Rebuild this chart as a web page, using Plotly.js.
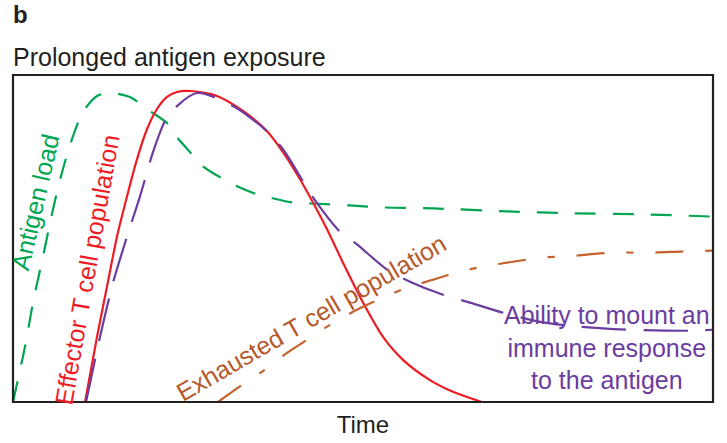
<!DOCTYPE html>
<html>
<head>
<meta charset="utf-8">
<script src="https://cdn.plot.ly/plotly-3.0.1.min.js"></script>
<style>html,body{margin:0;padding:0;background:#fff;}#chart{width:727px;height:443px;}</style>
</head>
<body>
<div id="chart"></div>
<script>
// Schematic time course (arbitrary units: time 0-100, level 0-100)
var antigenTime  = [0, 1.71, 2.86, 4.29, 5.71, 7.0, 8.43, 10.0, 12.0, 13.9, 16.7, 19.1, 22.0, 23.4, 25.3, 27.1, 29.6, 32.0, 34.9, 37.1, 40.0, 42.9, 48.1, 52.9, 60.0, 70.6, 80.0, 89.6, 100];
var antigenLoad  = [0, 16.9, 30.4, 44.5, 58.9, 70.2, 80.4, 88.7, 93.6, 94.5, 93.3, 89.6, 85.3, 81.0, 76.4, 72.1, 68.7, 66.0, 63.5, 62.3, 61.0, 60.7, 60.1, 59.5, 59.2, 58.3, 57.7, 57.4, 56.7];

var effectorTime = [10.29, 12.0, 13.43, 14.86, 16.29, 17.71, 19.14, 20.57, 22.0, 23.43, 25.29, 29.14, 32.86, 36.29, 38.57, 41.0, 42.86, 44.86, 47.14, 50.0, 52.86, 55.71, 59.57, 62.86, 65.29, 67.0];
var effectorPop  = [0, 19.9, 35.3, 50.6, 62.9, 74.2, 83.4, 89.6, 93.3, 94.8, 95.1, 93.6, 89.0, 82.8, 76.4, 68.1, 61.0, 52.8, 42.6, 30.4, 19.9, 12.9, 6.7, 3.1, 1.2, 0];

var abilityTime  = [10.43, 12.43, 14.29, 16.29, 18.14, 20.0, 21.71, 23.43, 26.29, 31.43, 36.29, 38.57, 41.43, 42.86, 46.71, 49.14, 53.43, 56.71, 61.43, 65.29, 70.0, 75.29, 81.0, 87.71, 96.71, 100];
var abilityLevel = [0, 19.9, 36.5, 50.6, 62.9, 76.4, 85.9, 90.5, 94.5, 90.5, 82.8, 77.3, 67.5, 62.6, 52.1, 48.2, 40.5, 36.8, 32.8, 30.4, 27.3, 24.5, 23.0, 22.1, 21.8, 22.1];

var exhaustedTime = [29.29, 32.71, 35.57, 39.14, 42.43, 45.29, 49.14, 52.86, 56.71, 60.0, 63.86, 67.14, 71.43, 75.71, 79.14, 83.43, 87.14, 91.43, 95.29, 100];
var exhaustedPop  = [0, 5.2, 9.2, 15.0, 19.6, 23.6, 28.2, 31.9, 35.3, 37.4, 39.9, 41.4, 42.9, 44.2, 44.5, 45.4, 45.7, 45.7, 46.0, 46.3];

var seriesNames = ['Antigen load', 'Effector T cell population', 'Exhausted T cell population', 'Ability to mount an<br>immune response<br>to the antigen'];

var FONT = 'Liberation Sans, Arial, Helvetica, sans-serif';
var GREEN = '#00a651', RED = '#ed1c24', PURPLE = '#6b3d9f', ORANGE = '#c4612c', BROWN = '#b5582c';

var traces = [
  {x: antigenTime, y: antigenLoad, mode: 'lines', name: seriesNames[0],
   line: {color: GREEN, width: 2.2, dash: '21px,17px', shape: 'spline', smoothing: 0.8}},
  {x: effectorTime, y: effectorPop, mode: 'lines', name: seriesNames[1],
   line: {color: RED, width: 2.2, shape: 'spline', smoothing: 0.8}},
  {x: abilityTime, y: abilityLevel, mode: 'lines', name: 'Ability',
   line: {color: PURPLE, width: 2.2, dash: '44px,18px', shape: 'spline', smoothing: 0.8}},
  {x: exhaustedTime, y: exhaustedPop, mode: 'lines', name: seriesNames[2],
   line: {color: ORANGE, width: 2.2, dash: '28px,22px,7px,22px', shape: 'spline', smoothing: 0.8}}
];

var layout = {
  width: 727, height: 443,
  margin: {l: 13, r: 14, t: 75, b: 41, pad: 0},
  paper_bgcolor: '#fff', plot_bgcolor: '#fff',
  showlegend: false,
  font: {family: FONT, color: '#231f20'},
  title: {text: 'Prolonged antigen exposure', font: {family: FONT, size: 25, color: '#231f20'},
          xref: 'paper', x: 0, xanchor: 'left', yref: 'container', y: 1 - 57/443, yanchor: 'middle', pad: {l: 0}},
  xaxis: {range: [0, 100], showgrid: false, zeroline: false, showticklabels: false, ticks: '', showline: false,
          title: {text: 'Time', font: {family: FONT, size: 24, color: '#231f20'}, standoff: 14}},
  yaxis: {range: [0, 100], showgrid: false, zeroline: false, showticklabels: false, ticks: '', showline: false},
  shapes: [{type: 'rect', xref: 'paper', yref: 'paper', x0: 0, x1: 1, y0: 0, y1: 1,
            line: {color: '#231f20', width: 2.2}, layer: 'above'}],
  annotations: [
    {text: '<b>b</b>', xref: 'paper', yref: 'paper', x: 0, y: (402 - 14) / 327, xanchor: 'left', yanchor: 'middle',
     showarrow: false, font: {family: FONT, size: 24, color: '#231f20'}, xshift: -2},
    {text: seriesNames[0], xref: 'x', yref: 'y', x: 3.14, y: 61.3, textangle: -77, showarrow: false,
     font: {family: FONT, size: 25, color: GREEN}},
    {text: seriesNames[1], xref: 'x', yref: 'y', x: 10.6, y: 40.6, textangle: -80, showarrow: false,
     font: {family: FONT, size: 25, color: RED}},
    {text: seriesNames[2], xref: 'x', yref: 'y', x: 42.5, y: 25.8, textangle: -30, showarrow: false,
     font: {family: FONT, size: 25, color: BROWN}},
    {text: seriesNames[3], xref: 'x', yref: 'y', x: 84.8, y: 16.8, showarrow: false, align: 'center',
     font: {family: FONT, size: 25, color: PURPLE}}
  ]
};

Plotly.newPlot('chart', traces, layout, {displayModeBar: false, staticPlot: true});
</script>
</body>
</html>
